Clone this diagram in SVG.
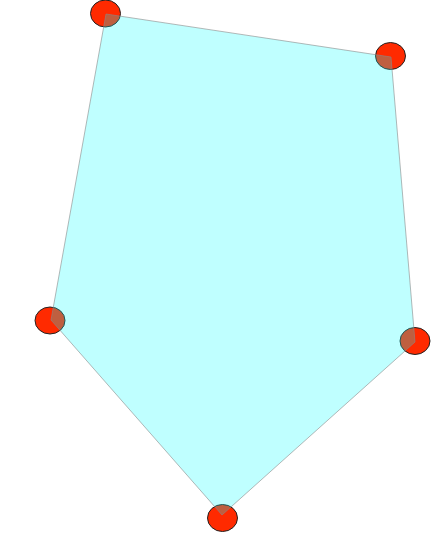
<svg xmlns="http://www.w3.org/2000/svg" width="440" height="557" viewBox="0 0 440 557">
<style>
.pt{fill:#ff2a00;stroke:#222;stroke-width:1}
.poly{fill:#00ffff;fill-opacity:0.25;stroke:#888;stroke-opacity:0.6;stroke-width:1}
</style>
<rect width="440" height="557" fill="#fff"/>
<g id="points">
<g id="p1"><ellipse class="pt" cx="105.5" cy="13.5" rx="15" ry="13.5"/></g>
<g id="p2"><ellipse class="pt" cx="390.5" cy="56" rx="15" ry="13.5"/></g>
<g id="p3"><ellipse class="pt" cx="415" cy="341" rx="15" ry="13.5"/></g>
<g id="p4"><ellipse class="pt" cx="222.5" cy="518" rx="15" ry="13.5"/></g>
<g id="p5"><ellipse class="pt" cx="50" cy="320.5" rx="15" ry="13.5"/></g>
</g>
<g id="connectors">
<polygon class="poly" points="106,14 391,57 415,342 222,515 51,320"/>
</g>
</svg>
